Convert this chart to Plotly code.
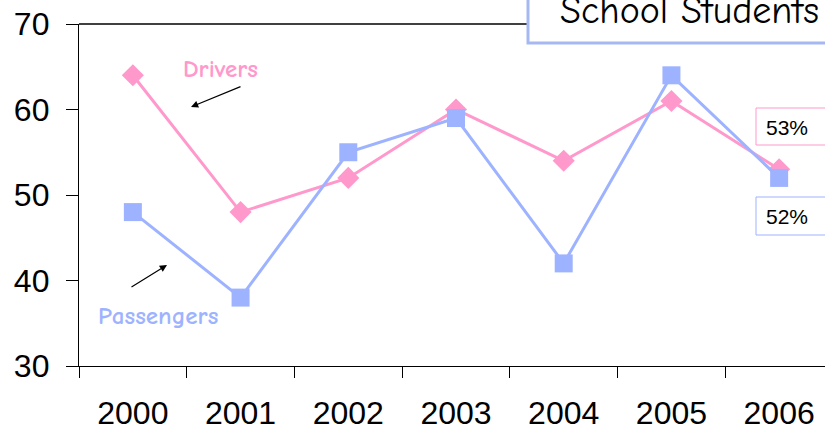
import plotly.graph_objects as go

years = ["2000", "2001", "2002", "2003", "2004", "2005", "2006"]
drivers = [64, 48, 52, 60, 54, 61, 53]
passengers = [48, 38, 55, 59, 42, 64, 52]
y_ticks = [30, 40, 50, 60, 70]

PINK = "#FF99CC"
BLUE = "#9EB3FF"
W, H = 825, 431
L, R, T, B = 79, 0, 24, 65
PW, PH = W - L - R, H - T - B


def px(x):
    return (x - L) / PW


def py(y):
    return (H - B - y) / PH


fig = go.Figure()
fig.add_trace(go.Scatter(x=years, y=drivers, mode="lines+markers", name="Drivers",
                         line=dict(color=PINK, width=3),
                         marker=dict(symbol="diamond", size=17, color=PINK)))
fig.add_trace(go.Scatter(x=years, y=passengers, mode="lines+markers", name="Passengers",
                         line=dict(color=BLUE, width=3),
                         marker=dict(symbol="square", size=18, color=BLUE)))

shapes = [
    dict(type="line", xref="paper", yref="paper", x0=0, x1=px(528), y0=1, y1=1,
         line=dict(color="black", width=1.3)),
    dict(type="rect", xref="paper", yref="paper", x0=px(528), x1=px(900), y0=py(43), y1=py(-20),
         line=dict(color="#A6B8F2", width=3), fillcolor="white", layer="above"),
    dict(type="rect", xref="paper", yref="paper", x0=px(756), x1=px(900), y0=py(145), y1=py(108),
         line=dict(color=PINK, width=1), fillcolor="white", layer="above"),
    dict(type="rect", xref="paper", yref="paper", x0=px(756), x1=px(900), y0=py(235), y1=py(197),
         line=dict(color=BLUE, width=1), fillcolor="white", layer="above"),
]

casual = "Comic Sans MS, Comic Neue, Lato, sans-serif"
annotations = [
    dict(xref="paper", yref="paper", x=px(558), y=py(11), xanchor="left", yanchor="middle",
         text="School Students", showarrow=False,
         font=dict(family=casual, size=38, color="black")),
    dict(xref="paper", yref="paper", x=px(764), y=py(127), xanchor="left", yanchor="middle",
         text="53%", showarrow=False, font=dict(family="Liberation Sans, Arial", size=21, color="black")),
    dict(xref="paper", yref="paper", x=px(764), y=py(216), xanchor="left", yanchor="middle",
         text="52%", showarrow=False, font=dict(family="Liberation Sans, Arial", size=21, color="black")),
    dict(xref="paper", yref="paper", x=px(220), y=py(69), xanchor="center", yanchor="middle",
         text="<b>Drivers</b>", showarrow=False,
         font=dict(family=casual, size=25, color=PINK, weight="bold")),
    dict(xref="paper", yref="paper", x=px(158), y=py(315), xanchor="center", yanchor="middle",
         text="<b>Passengers</b>", showarrow=False,
         font=dict(family=casual, size=25, color=BLUE, weight="bold")),
    dict(xref="paper", yref="paper", x=px(191), y=py(107), text="", showarrow=True,
         ax=51, ay=-21, arrowhead=2, arrowsize=1.2, arrowwidth=1.2, arrowcolor="black", standoff=0),
    dict(xref="paper", yref="paper", x=px(167), y=py(265), text="", showarrow=True,
         ax=-37, ay=23, arrowhead=2, arrowsize=1.2, arrowwidth=1.2, arrowcolor="black", standoff=0),
]

fig.update_layout(
    width=W, height=H,
    margin=dict(l=L, r=R, t=T, b=B, pad=0),
    paper_bgcolor="white", plot_bgcolor="white",
    showlegend=False,
    shapes=shapes, annotations=annotations,
    font=dict(family="Liberation Sans, Arial", color="black"),
)
fig.update_xaxes(type="category", range=[-0.5, 6.5 - 8 / 107.7], showgrid=False,
                 showline=True, linecolor="black", linewidth=1.3,
                 ticks="outside", ticklen=11, tickcolor="black", tickwidth=1.3,
                 tickson="boundaries", tickfont=dict(size=32), ticklabelstandoff=18)
fig.update_yaxes(range=[30, 70], tickvals=y_ticks, showgrid=False, zeroline=False,
                 showline=True, linecolor="black", linewidth=1.3,
                 ticks="outside", ticklen=12, tickcolor="black", tickwidth=1.3,
                 tickfont=dict(size=32), ticklabelstandoff=10)

fig.write_html("out.html", config={"displayModeBar": False},
               post_script="document.body.style.margin='0';")
